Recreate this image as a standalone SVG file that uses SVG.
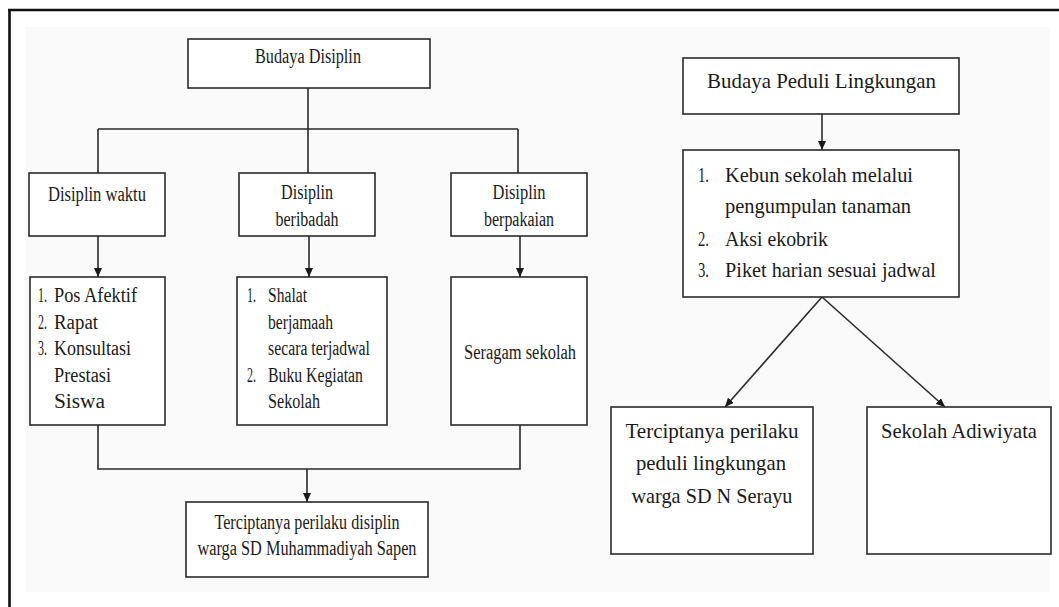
<svg xmlns="http://www.w3.org/2000/svg" width="1059" height="607" viewBox="0 0 1059 607">
  <style>
    .box { fill: #ffffff; stroke: #2a2a2a; stroke-width: 1.6; }
    .wire { fill: none; stroke: #2a2a2a; stroke-width: 1.6; }
    text { font-family: Liberation Serif, DejaVu Serif, serif; fill: #1a1a1a; }
    .t { font-size: 20px; }
    .r { font-size: 21px; }
    .c { text-anchor: middle; }
  </style>
  <defs>
    <marker id="head" markerUnits="userSpaceOnUse" markerWidth="9" markerHeight="8" refX="9" refY="4" orient="auto">
      <path d="M0,0 L9,4 L0,8 Z" fill="#1a1a1a"/>
    </marker>
  </defs>

  <!-- page -->
  <rect x="0" y="0" width="1059" height="607" fill="#ffffff"/>
  <rect x="25" y="27" width="1025" height="565" fill="#fafafa"/>
  <path d="M8,10 H1059 M9.5,10 V607" fill="none" stroke="#111" stroke-width="2.6"/>

  <!-- connectors -->
  <g id="connectors">
    <path class="wire" d="M308,88 V129 M98,129 H518 M98,129 V173 M308,129 V173 M518,129 V173"/>
    <path class="wire" d="M98,236 V277" marker-end="url(#head)"/>
    <path class="wire" d="M309,236 V277" marker-end="url(#head)"/>
    <path class="wire" d="M520,236 V277" marker-end="url(#head)"/>
    <path class="wire" d="M98,425 V469 H520 V425"/>
    <path class="wire" d="M307,469 V502" marker-end="url(#head)"/>
    <path class="wire" d="M822,114 V150" marker-end="url(#head)"/>
    <path class="wire" d="M822,297 L725,407" marker-end="url(#head)"/>
    <path class="wire" d="M822,297 L945,407" marker-end="url(#head)"/>
  </g>

  <!-- left tree -->
  <g id="budaya-disiplin">
    <rect class="box" x="188" y="39" width="242" height="49"/>
    <text class="t c" x="308" y="63" textLength="106" lengthAdjust="spacingAndGlyphs">Budaya Disiplin</text>
  </g>

  <g id="disiplin-waktu">
    <rect class="box" x="29" y="173" width="136" height="63"/>
    <text class="t c" x="97" y="201" textLength="98" lengthAdjust="spacingAndGlyphs">Disiplin waktu</text>
  </g>

  <g id="disiplin-beribadah">
    <rect class="box" x="239" y="173" width="136" height="63"/>
    <text class="t c" x="307" y="199" textLength="52" lengthAdjust="spacingAndGlyphs">Disiplin</text>
    <text class="t c" x="307" y="226" textLength="63" lengthAdjust="spacingAndGlyphs">beribadah</text>
  </g>

  <g id="disiplin-berpakaian">
    <rect class="box" x="451" y="173" width="136" height="63"/>
    <text class="t c" x="519" y="199" textLength="53" lengthAdjust="spacingAndGlyphs">Disiplin</text>
    <text class="t c" x="519" y="226" textLength="70" lengthAdjust="spacingAndGlyphs">berpakaian</text>
  </g>

  <g id="kegiatan-waktu">
    <rect class="box" x="30" y="277" width="135" height="148"/>
    <text class="t" y="302"><tspan x="38" textLength="9" lengthAdjust="spacingAndGlyphs">1.</tspan><tspan x="54" textLength="83" lengthAdjust="spacingAndGlyphs">Pos Afektif</tspan></text>
    <text class="t" y="329"><tspan x="38" textLength="9" lengthAdjust="spacingAndGlyphs">2.</tspan><tspan x="54" textLength="44" lengthAdjust="spacingAndGlyphs">Rapat</tspan></text>
    <text class="t" y="355"><tspan x="38" textLength="9" lengthAdjust="spacingAndGlyphs">3.</tspan><tspan x="54" textLength="77" lengthAdjust="spacingAndGlyphs">Konsultasi</tspan></text>
    <text class="t" x="54" y="382" textLength="57" lengthAdjust="spacingAndGlyphs">Prestasi</text>
    <text class="t" x="54" y="408" textLength="51" lengthAdjust="spacingAndGlyphs">Siswa</text>
  </g>

  <g id="kegiatan-ibadah">
    <rect class="box" x="237" y="277" width="150" height="148"/>
    <text class="t" y="302"><tspan x="247" textLength="9" lengthAdjust="spacingAndGlyphs">1.</tspan><tspan x="268" textLength="39" lengthAdjust="spacingAndGlyphs">Shalat</tspan></text>
    <text class="t" x="268" y="329" textLength="65" lengthAdjust="spacingAndGlyphs">berjamaah</text>
    <text class="t" x="268" y="355" textLength="102" lengthAdjust="spacingAndGlyphs">secara terjadwal</text>
    <text class="t" y="382"><tspan x="247" textLength="9" lengthAdjust="spacingAndGlyphs">2.</tspan><tspan x="268" textLength="95" lengthAdjust="spacingAndGlyphs">Buku Kegiatan</tspan></text>
    <text class="t" x="268" y="408" textLength="52" lengthAdjust="spacingAndGlyphs">Sekolah</text>
  </g>

  <g id="kegiatan-pakaian">
    <rect class="box" x="451" y="277" width="136" height="148"/>
    <text class="t c" x="520" y="359" textLength="112" lengthAdjust="spacingAndGlyphs">Seragam sekolah</text>
  </g>

  <g id="hasil-disiplin">
    <rect class="box" x="186" y="502" width="242" height="75"/>
    <text class="t c" x="307" y="529" textLength="185" lengthAdjust="spacingAndGlyphs">Terciptanya perilaku disiplin</text>
    <text class="t c" x="307" y="555" textLength="219" lengthAdjust="spacingAndGlyphs">warga SD Muhammadiyah Sapen</text>
  </g>

  <!-- right tree -->
  <g id="budaya-peduli-lingkungan">
    <rect class="box" x="683" y="58" width="276" height="56"/>
    <text class="r c" x="821.5" y="88" textLength="229" lengthAdjust="spacingAndGlyphs">Budaya Peduli Lingkungan</text>
  </g>

  <g id="kegiatan-lingkungan">
    <rect class="box" x="683" y="150" width="276" height="147"/>
    <text class="r" y="182"><tspan x="698" textLength="11" lengthAdjust="spacingAndGlyphs">1.</tspan><tspan x="725" textLength="188" lengthAdjust="spacingAndGlyphs">Kebun sekolah melalui</tspan></text>
    <text class="r" x="725" y="213" textLength="186" lengthAdjust="spacingAndGlyphs">pengumpulan tanaman</text>
    <text class="r" y="246"><tspan x="698" textLength="11" lengthAdjust="spacingAndGlyphs">2.</tspan><tspan x="725" textLength="103" lengthAdjust="spacingAndGlyphs">Aksi ekobrik</tspan></text>
    <text class="r" y="277"><tspan x="698" textLength="11" lengthAdjust="spacingAndGlyphs">3.</tspan><tspan x="725" textLength="211" lengthAdjust="spacingAndGlyphs">Piket harian sesuai jadwal</tspan></text>
  </g>

  <g id="hasil-peduli">
    <rect class="box" x="611" y="407" width="202" height="147"/>
    <text class="r c" x="712" y="438" textLength="173" lengthAdjust="spacingAndGlyphs">Terciptanya perilaku</text>
    <text class="r c" x="711" y="470" textLength="150" lengthAdjust="spacingAndGlyphs">peduli lingkungan</text>
    <text class="r c" x="712" y="503" textLength="161" lengthAdjust="spacingAndGlyphs">warga SD N Serayu</text>
  </g>

  <g id="sekolah-adiwiyata">
    <rect class="box" x="867" y="407" width="184" height="147"/>
    <text class="r c" x="959" y="438" textLength="156" lengthAdjust="spacingAndGlyphs">Sekolah Adiwiyata</text>
  </g>
</svg>
